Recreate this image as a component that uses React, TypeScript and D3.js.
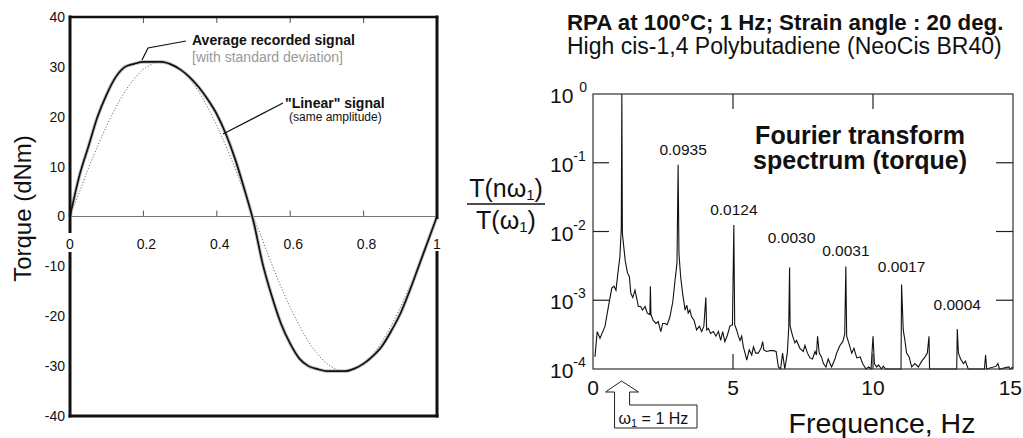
import React, { useRef, useEffect } from 'react';
import * as d3 from 'd3';

// ---- left panel: one period of torque signal (time in s, torque in dNm)
const timeSteps = [
  0, 0.025, 0.05, 0.075, 0.1, 0.125, 0.15, 0.175, 0.2, 0.225, 0.25, 0.275, 0.3, 0.325,
  0.35, 0.375, 0.4, 0.425, 0.45, 0.475, 0.5, 0.525, 0.55, 0.575, 0.6, 0.625, 0.65, 0.675,
  0.7, 0.725, 0.75, 0.775, 0.8, 0.825, 0.85, 0.875, 0.9, 0.925, 0.95, 0.975, 1
];
const recordedTorque = [
  0, 8, 14, 20, 24.5, 28, 30, 30.6, 31, 31, 31, 30.5, 29.5, 28, 26, 23.5, 20.5, 16.5, 11.5,
  5.5, -1, -9.5, -16, -21.5, -25.5, -28.5, -30, -30.6, -31, -31, -31, -30.5, -29.5, -28,
  -26, -23, -19.5, -15, -10, -5, 0
];
const linearTorque = [
  0, 4.8, 9.6, 14.1, 18.2, 21.9, 25.1, 27.6, 29.5, 30.6, 31, 30.6, 29.5, 27.6, 25.1, 21.9,
  18.2, 14.1, 9.6, 4.8, 0, -4.8, -9.6, -14.1, -18.2, -21.9, -25.1, -27.6, -29.5, -30.6, -31,
  -30.6, -29.5, -27.6, -25.1, -21.9, -18.2, -14.1, -9.6, -4.8, 0
];
const torqueTicks = [40, 30, 20, 10, 0, -10, -20, -30, -40];
const timeTicks = [0, 0.2, 0.4, 0.6, 0.8, 1];

// ---- right panel: Fourier spectrum T(nw1)/T(w1)
const spectrumFreq = [
  0.07, 0.15, 0.25, 0.35, 0.43, 0.55, 0.67, 0.75, 0.82, 0.89, 0.96, 1.01, 1.03, 1.05, 1.15,
  1.23, 1.3, 1.35, 1.42, 1.5, 1.56, 1.62, 1.7, 1.77, 1.86, 1.94, 2.03, 2.05, 2.07, 2.15, 2.25,
  2.33, 2.42, 2.49, 2.57, 2.65, 2.75, 2.85, 2.93, 3.0, 3.04, 3.07, 3.13, 3.2, 3.29, 3.35, 3.4,
  3.46, 3.52, 3.61, 3.7, 3.8, 3.88, 3.96, 4.03, 4.06, 4.12, 4.2, 4.3, 4.39, 4.48, 4.56, 4.63,
  4.71, 4.8, 4.89, 4.98, 5.03, 5.06, 5.13, 5.19, 5.25, 5.31, 5.37, 5.43, 5.49, 5.58, 5.67,
  5.73, 5.81, 5.9, 6.0, 6.06, 6.1, 6.2, 6.32, 6.45, 6.54, 6.62, 6.7, 6.77, 6.85, 6.94, 6.99,
  7.02, 7.04, 7.13, 7.21, 7.27, 7.39, 7.51, 7.57, 7.66, 7.75, 7.84, 7.93, 7.98, 8.02, 8.08,
  8.16, 8.23, 8.32, 8.4, 8.52, 8.64, 8.7, 8.82, 8.92, 8.99, 9.03, 9.06, 9.16, 9.24, 9.32,
  9.42, 9.54, 9.63, 9.75, 9.85, 9.93, 10.0, 10.05, 10.13, 10.2, 10.3, 10.37, 10.45, 10.9,
  11.0, 11.02, 11.08, 11.14, 11.2, 11.29, 11.38, 11.5, 11.62, 11.74, 11.86, 11.94, 12.0,
  12.02, 12.99, 13.01, 13.05, 13.13, 13.23, 13.3, 13.4, 13.98, 14.02, 14.06, 14.4, 14.46,
  14.52, 14.85, 14.9, 15.0
];
const spectrumAmp = [
  1.5e-4, 3.5e-4, 2.8e-4, 3.5e-4, 4.2e-4, 8.1e-4, 1.5e-3, 1.6e-3, 1.4e-3, 2.5e-3, 4.3e-3,
  1.1e-2, 1.0, 9.3e-3, 3.8e-3, 2.5e-3, 2.2e-3, 1.26e-3, 1.1e-3, 1.4e-3, 1.07e-3, 8.1e-4,
  8.1e-4, 7.2e-4, 8.1e-4, 6.5e-4, 6.2e-4, 1.6e-3, 6.2e-4, 5.1e-4, 4.6e-4, 4.9e-4, 3.5e-4,
  4.6e-4, 4.6e-4, 4.4e-4, 5.8e-4, 9.5e-4, 1.95e-3, 3.5e-3, 0.0935, 4.8e-3, 2.2e-3, 1.26e-3,
  7.2e-4, 8.5e-4, 6.5e-4, 7.2e-4, 5.8e-4, 5.1e-4, 3.7e-4, 4.2e-4, 3.5e-4, 4.2e-4, 1.1e-3,
  3.7e-4, 3.9e-4, 3.3e-4, 3.5e-4, 3.0e-4, 3.5e-4, 2.6e-4, 3.5e-4, 2.5e-4, 3.1e-4, 4.2e-4,
  4.4e-4, 0.0124, 4.4e-4, 3.7e-4, 3.0e-4, 2.6e-4, 3.0e-4, 2.1e-4, 1.7e-4, 1.35e-4, 1.9e-4,
  1.6e-4, 2.1e-4, 1.7e-4, 1.7e-4, 2.0e-4, 2.5e-4, 1.9e-4, 1.8e-4, 1.85e-4, 1.85e-4, 1.8e-4,
  1.07e-4, 8e-5, 1.7e-4, 9e-5, 1.7e-4, 4e-4, 3.0e-3, 4.2e-4, 3.0e-4, 2.4e-4, 2.6e-4, 2.0e-4,
  1.8e-4, 2.2e-4, 1.7e-4, 1.45e-4, 1.4e-4, 1.8e-4, 1.6e-4, 3.0e-4, 1.7e-4, 1.5e-4, 1.2e-4,
  1.07e-4, 1.4e-4, 1.07e-4, 1.4e-4, 1.7e-4, 2.2e-4, 2.5e-4, 3.2e-4, 3.1e-3, 3.0e-4, 2.2e-4,
  1.7e-4, 2.0e-4, 1.45e-4, 1.5e-4, 1.2e-4, 9e-5, 1.07e-4, 9e-5, 3.0e-4, 1.2e-4, 1.07e-4,
  1.15e-4, 9e-5, 1.1e-4, 9e-5, 9e-5, 8e-5, 1.7e-3, 3.7e-4, 2.6e-4, 1.7e-4, 1.5e-4, 1.07e-4,
  1.2e-4, 1.07e-4, 1.3e-4, 1.5e-4, 1.7e-4, 3.0e-4, 9e-5, 9e-5, 3.8e-4, 1.7e-4, 1.4e-4,
  1.2e-4, 1.3e-4, 9e-5, 9e-5, 1.6e-4, 9e-5, 1.1e-4, 1.2e-4, 9e-5, 1.07e-4, 9e-5, 1.07e-4
];
const harmonicFreq = [3.04, 5.03, 7.02, 9.03, 11.02, 13.01];
const harmonicAmp = [0.0935, 0.0124, 0.003, 0.0031, 0.0017, 0.0004];
const harmonicLabels = ['0.0935', '0.0124', '0.0030', '0.0031', '0.0017', '0.0004'];
const decadeTicks = [0, -1, -2, -3, -4];
const freqTicks = [0, 5, 10, 15];

const W = 1023;
const H = 438;
const FONT = '"Liberation Sans", Arial, Helvetica, sans-serif';

// label offsets (px) above each harmonic peak
const labelShift = [[5, -10], [0, -10], [2, -24], [0, -10], [0, -12], [0, -18]];

export default function App() {
  const svgRef = useRef<SVGSVGElement>(null);

  useEffect(() => {
    const svg = d3.select(svgRef.current);
    svg.selectAll('*').remove();
    svg.append('rect').attr('width', W).attr('height', H).attr('fill', '#fff');

    // ================= left panel =================
    const xL = d3.scaleLinear().domain([0, 1]).range([70, 437]);
    const yL = d3.scaleLinear().domain([-40, 40]).range([416, 17]);
    const gL = svg.append('g').attr('font-family', FONT);

    // zero line + small ticks
    gL.append('line')
      .attr('x1', xL(0)).attr('x2', xL(1))
      .attr('y1', yL(0)).attr('y2', yL(0))
      .attr('stroke', '#777').attr('stroke-width', 1);
    timeTicks.filter(t => t > 0 && t < 1).forEach(t => {
      gL.append('line')
        .attr('x1', xL(t)).attr('x2', xL(t))
        .attr('y1', yL(0)).attr('y2', yL(0) - 6)
        .attr('stroke', '#555').attr('stroke-width', 1);
      gL.append('line')
        .attr('x1', xL(t)).attr('x2', xL(t))
        .attr('y1', yL(40)).attr('y2', yL(40) + 6)
        .attr('stroke', '#555').attr('stroke-width', 1);
    });

    const lineL = d3.line<number>()
      .x((_, i) => xL(timeSteps[i]))
      .y(d => yL(d))
      .curve(d3.curveMonotoneX);

    gL.append('path')
      .attr('d', lineL(linearTorque))
      .attr('fill', 'none').attr('stroke', '#555')
      .attr('stroke-width', 1).attr('stroke-dasharray', '1,2');
    // std deviation halo
    gL.append('path')
      .attr('d', lineL(recordedTorque))
      .attr('fill', 'none').attr('stroke', '#c4c4c4').attr('stroke-width', 3.6);
    gL.append('path')
      .attr('d', lineL(recordedTorque))
      .attr('fill', 'none').attr('stroke', '#111').attr('stroke-width', 1.7);

    // frame (broken where the x labels sit)
    const frame = [
      [xL(0), yL(40), xL(1), yL(40), 2.5],
      [xL(0), yL(-40), xL(1), yL(-40), 3],
      [xL(0), yL(40), xL(0), yL(0) + 15, 3],
      [xL(0), yL(0) + 37, xL(0), yL(-40), 3],
      [xL(1), yL(40), xL(1), yL(0) + 1, 3],
      [xL(1), yL(0) + 36, xL(1), yL(-40), 3]
    ];
    frame.forEach(([x1, y1, x2, y2, w]) => {
      gL.append('line')
        .attr('x1', x1).attr('y1', y1).attr('x2', x2).attr('y2', y2)
        .attr('stroke', '#111').attr('stroke-width', w).attr('stroke-linecap', 'square');
    });

    gL.selectAll('.ytl')
      .data(torqueTicks)
      .join('text')
      .attr('x', 65).attr('y', d => yL(d)).attr('dy', '0.35em')
      .attr('text-anchor', 'end').attr('font-size', 14).attr('fill', '#111')
      .text(d => d);
    gL.selectAll('.xtl')
      .data(timeTicks)
      .join('text')
      .attr('x', d => xL(d) + (d > 0 && d < 1 ? 3 : 0)).attr('y', yL(0) + 32)
      .attr('text-anchor', 'middle').attr('font-size', 14).attr('fill', '#111')
      .text(d => d);

    gL.append('text')
      .attr('transform', `translate(31,${(yL(40) + yL(-40)) / 2 - 8}) rotate(-90)`)
      .attr('text-anchor', 'middle').attr('font-size', 24).attr('fill', '#111')
      .text('Torque (dNm)');

    // annotations
    gL.append('path')
      .attr('d', 'M142,60 L148,48 L186,41')
      .attr('fill', 'none').attr('stroke', '#111').attr('stroke-width', 1.2);
    gL.append('text')
      .attr('x', 192).attr('y', 45).attr('font-size', 14).attr('font-weight', 'bold')
      .attr('fill', '#111').text('Average recorded signal');
    gL.append('text')
      .attr('x', 192).attr('y', 62).attr('font-size', 14)
      .attr('fill', '#999').text('[with standard deviation]');
    gL.append('path')
      .attr('d', 'M223,134 L283,103')
      .attr('fill', 'none').attr('stroke', '#111').attr('stroke-width', 1.2);
    gL.append('text')
      .attr('x', 285).attr('y', 108).attr('font-size', 14).attr('font-weight', 'bold')
      .attr('fill', '#111').text('"Linear" signal');
    gL.append('text')
      .attr('x', 289).attr('y', 121).attr('font-size', 12)
      .attr('fill', '#111').text('(same amplitude)');

    // ================= right panel =================
    const xR = d3.scaleLinear().domain([0, 15]).range([593, 1013]);
    const yR = d3.scaleLog().domain([1e-4, 1]).range([369, 94]).clamp(true);
    const gR = svg.append('g').attr('font-family', FONT).attr('fill', '#111');

    gR.append('text')
      .attr('x', 567).attr('y', 30).attr('font-size', 22.3).attr('font-weight', 'bold')
      .text('RPA at 100°C; 1 Hz; Strain angle : 20 deg.');
    gR.append('text')
      .attr('x', 567).attr('y', 54).attr('font-size', 23)
      .text('High cis-1,4 Polybutadiene (NeoCis BR40)');

    // spectrum
    const lineR = d3.line<number>()
      .x((_, i) => xR(spectrumFreq[i]))
      .y(d => yR(d));
    gR.append('path')
      .attr('d', lineR(spectrumAmp))
      .attr('fill', 'none').attr('stroke', '#111').attr('stroke-width', 1.1)
      .attr('stroke-linejoin', 'miter');

    // frame
    gR.append('rect')
      .attr('x', xR(0)).attr('y', yR(1))
      .attr('width', xR(15) - xR(0)).attr('height', yR(1e-4) - yR(1))
      .attr('fill', 'none').attr('stroke', '#333').attr('stroke-width', 1.2);

    decadeTicks.filter(p => p < 0 && p > -4).forEach(p => {
      const y = yR(Math.pow(10, p));
      gR.append('line').attr('x1', xR(0)).attr('x2', xR(0) + 16).attr('y1', y).attr('y2', y)
        .attr('stroke', '#222').attr('stroke-width', 1.2);
      gR.append('line').attr('x1', xR(15)).attr('x2', xR(15) - 17).attr('y1', y).attr('y2', y)
        .attr('stroke', '#222').attr('stroke-width', 1.2);
    });
    freqTicks.filter(f => f > 0 && f < 15).forEach(f => {
      gR.append('line').attr('x1', xR(f)).attr('x2', xR(f)).attr('y1', yR(1)).attr('y2', yR(1) + 15)
        .attr('stroke', '#222').attr('stroke-width', 1.2);
      gR.append('line').attr('x1', xR(f)).attr('x2', xR(f)).attr('y1', yR(1e-4)).attr('y2', yR(1e-4) - 15)
        .attr('stroke', '#222').attr('stroke-width', 1.2);
    });

    // y tick labels 10^n
    decadeTicks.forEach(p => {
      const y = yR(Math.pow(10, p));
      const t = gR.append('text').attr('x', 550).attr('y', y + 9).attr('font-size', 21);
      t.append('tspan').text('10');
      t.append('tspan').attr('font-size', 14).attr('dy', -11)
        .attr('dx', p === 0 ? 6 : 0)
        .text(p === 0 ? '0' : `-${-p}`);
    });

    gR.selectAll('.xtr')
      .data(freqTicks)
      .join('text')
      .attr('x', d => (d === 15 ? W - 1 : xR(d))).attr('y', 395)
      .attr('text-anchor', d => (d === 15 ? 'end' : 'middle')).attr('font-size', 21)
      .text(d => d);

    gR.append('text')
      .attr('x', 882).attr('y', 433).attr('text-anchor', 'middle').attr('font-size', 28.5)
      .text('Frequence, Hz');

    // y label as a fraction
    const num = gR.append('text').attr('x', 506).attr('y', 197)
      .attr('text-anchor', 'middle').attr('font-size', 25);
    num.append('tspan').text('T(nω');
    num.append('tspan').attr('font-size', 15).attr('dy', 3).text('1');
    num.append('tspan').attr('dy', -3).text(')');
    gR.append('line').attr('x1', 467).attr('x2', 545).attr('y1', 204).attr('y2', 204)
      .attr('stroke', '#111').attr('stroke-width', 1.5);
    const den = gR.append('text').attr('x', 506).attr('y', 229)
      .attr('text-anchor', 'middle').attr('font-size', 25);
    den.append('tspan').text('T(ω');
    den.append('tspan').attr('font-size', 15).attr('dy', 3).text('1');
    den.append('tspan').attr('dy', -3).text(')');

    // panel title
    gR.append('text')
      .attr('x', 860).attr('y', 144).attr('text-anchor', 'middle')
      .attr('font-size', 25).attr('font-weight', 'bold').text('Fourier transform');
    gR.append('text')
      .attr('x', 860).attr('y', 169).attr('text-anchor', 'middle')
      .attr('font-size', 25).attr('font-weight', 'bold').text('spectrum (torque)');

    // harmonic values
    harmonicLabels.forEach((lab, i) => {
      gR.append('text')
        .attr('x', xR(harmonicFreq[i]) + labelShift[i][0])
        .attr('y', yR(harmonicAmp[i]) + labelShift[i][1])
        .attr('text-anchor', 'middle').attr('font-size', 15.5)
        .text(lab);
    });

    // w1 = 1 Hz callout arrow
    const ax = xR(harmonicFreq[0] - 2.02);
    gR.append('path')
      .attr('d', `M${ax - 7},428 L${ax - 7},392 L${ax - 16},392 L${ax},381 L${ax + 17},392 `
        + `L${ax + 8},392 L${ax + 8},405 L697,405 L697,428 Z`)
      .attr('fill', '#fff').attr('stroke', '#222').attr('stroke-width', 1);
    const cap = gR.append('text').attr('x', ax - 3).attr('y', 424).attr('font-size', 16);
    cap.append('tspan').text('ω');
    cap.append('tspan').attr('font-size', 11).attr('dy', 3).text('1');
    cap.append('tspan').attr('dy', -3).text(' = 1 Hz');
  }, []);

  return (
    <svg
      ref={svgRef}
      width={W}
      height={H}
      style={{ position: 'absolute', left: 0, top: 0, display: 'block' }}
    />
  );
}
